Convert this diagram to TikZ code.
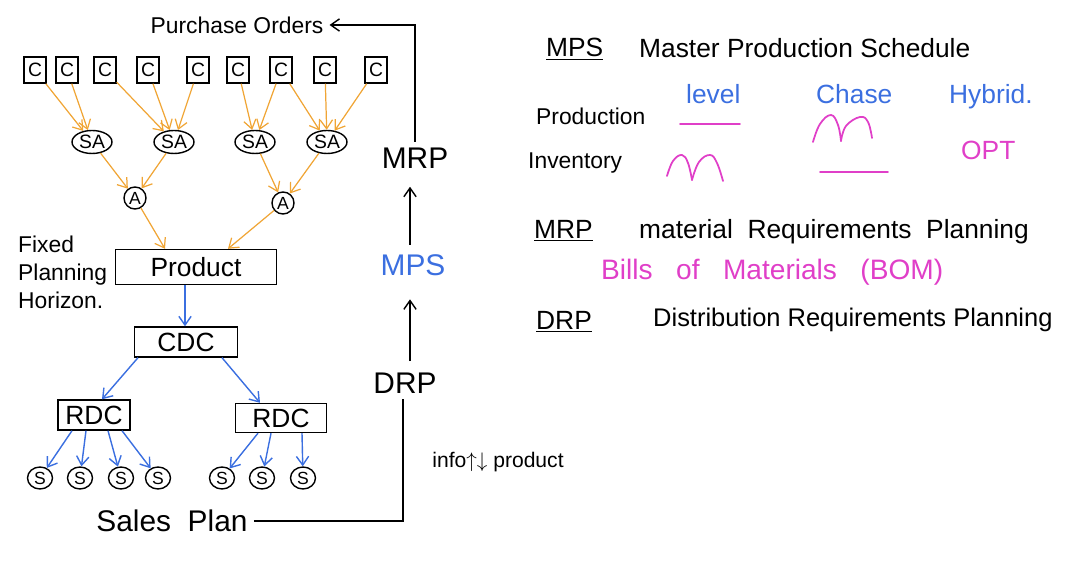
\documentclass[tikz,border=0pt]{standalone}
\usepackage{fontspec}
\setmainfont{Liberation Sans}
\usetikzlibrary{arrows.meta,shapes.geometric}
\definecolor{orng}{HTML}{F0A535}
\definecolor{blu}{HTML}{3B6FE0}
\definecolor{pnk}{HTML}{E03FC8}
\begin{document}
\begin{tikzpicture}[x=0.02cm,y=-0.02cm,
  tip/.style={-{Straight Barb[length=5pt,width=7pt]}},
  oarr/.style={tip,draw=orng,line width=0.7pt},
  barr/.style={tip,draw=blu,line width=0.8pt},
  karr/.style={tip,draw=black,line width=0.8pt},
  cbox/.style={draw,line width=0.8pt,minimum width=0.44cm,minimum height=0.52cm,inner sep=0pt,font=\fontsize{11}{13}\selectfont},
  sa/.style={draw,ellipse,line width=0.8pt,minimum width=0.8cm,minimum height=0.46cm,inner sep=0pt,font=\fontsize{11}{13}\selectfont},
  asm/.style={draw,circle,line width=0.8pt,minimum size=0.44cm,inner sep=0pt,font=\fontsize{10}{12}\selectfont},
  sn/.style={draw,ellipse,line width=0.8pt,minimum width=0.5cm,minimum height=0.44cm,inner sep=0pt,font=\fontsize{10}{12}\selectfont},
  rbox/.style={draw,line width=0.8pt,inner sep=0pt,font=\fontsize{15}{18}\selectfont},
  lbl/.style={font=\fontsize{13}{16}\selectfont},
  big/.style={font=\fontsize{17}{20}\selectfont},
  rt/.style={font=\fontsize{15}{18}\selectfont,anchor=west},
  bt/.style={font=\fontsize{15}{18}\selectfont,anchor=base west,text=blu},
  hump/.style={draw=pnk,line width=1pt,line cap=round,line join=round}
]
\useasboundingbox (0,0) rectangle (1080,573);
% Purchase orders
\node[lbl] (po) at (237,25) {Purchase Orders};
% components
\foreach \i/\x in {1/35,2/67,3/105,4/148,5/198,6/238,7/281,8/325,9/376}
  \node[cbox] (c\i) at (\x,70) {C};
\foreach \i/\x in {1/92,2/174,3/255,4/327}
  \node[sa] (sa\i) at (\x,142) {SA};
\node[asm] (a1) at (135,198) {A};
\node[asm] (a2) at (283,203) {A};
\foreach \c/\s in {1/1,2/1,3/2,4/2,5/2,6/3,7/3,7/4,8/4,9/4}
  \draw[oarr] (c\c) -- (sa\s);
\foreach \s/\a in {1/1,2/1,3/2,4/2}
  \draw[oarr] (sa\s) -- (a\a);
\node[rbox,minimum width=3.22cm,minimum height=0.7cm] (prod) at (196,267) {Product};
\draw[oarr] (a1) -- (prod.north -| 165,0);
\draw[oarr] (a2) -- (prod.north -| 228,0);
\node[lbl,align=left,anchor=west] (fph) at (12,272) {Fixed\\Planning\\Horizon.};
% distribution
\node[rbox,minimum width=2.06cm,minimum height=0.6cm] (cdc) at (186,342) {CDC};
\node[rbox,minimum width=1.44cm,minimum height=0.6cm] (rdc1) at (94,415) {RDC};
\node[rbox,minimum width=1.82cm,minimum height=0.58cm] (rdc2) at (281,418) {RDC};
\draw[barr] (prod.south -| 185,0) -- (cdc.north -| 185,0);
\draw[barr] (cdc.south -| 138,0) -- (rdc1.north -| 102,0);
\draw[barr] (cdc.south -| 222,0) -- (rdc2.north -| 260,0);
\foreach \i/\x in {1/40,2/80,3/121,4/158,5/222,6/262,7/303}
  \node[sn] (s\i) at (\x,478) {S};
\foreach \i/\x in {1/72,2/86,3/108,4/122}
  \draw[barr] (rdc1.south -| \x,0) -- (s\i);
\foreach \i/\x in {5/258,6/271,7/302}
  \draw[barr] (rdc2.south -| \x,0) -- (s\i);
\node[font=\fontsize{17}{20}\selectfont] (sp) at (172,521) {Sales\ \ Plan};
% planning chain
\node[big] (mrp) at (415,158) {MRP};
\node[big,text=blu] (mps) at (413,265) {MPS};
\node[big] (drp) at (405,383) {DRP};
\draw[karr,shorten <=2pt,shorten >=7pt] (mps.north -| 410,0) -- (mrp.south -| 410,0);
\draw[karr,shorten <=3pt,shorten >=10pt] (drp.north -| 410,0) -- (mps.south -| 410,0);
\draw[karr,line width=0.8pt] (mrp.north -| 415,0) |- (po.east);
\draw[line width=0.8pt] (sp.east) -| (drp.south -| 403,0);
\node[font=\fontsize{12}{14}\selectfont] (info) at (498,462) {info$\uparrow\downarrow$ product};
% right side
\node[rt] (mpsh) at (540,49) {\underline{MPS}};
\node[rt] (mpst) at (633,48) {Master Production Schedule};
\node[rt,font=\fontsize{13}{16}\selectfont] (prodn) at (530,116) {Production};
\node[rt,font=\fontsize{13}{16}\selectfont] (inv) at (522,163) {Inventory};
\node[bt] (lev) at (680,104) {level};
\node[bt] (cha) at (810,104) {Chase};
\node[bt] (hyb) at (943,104) {Hybrid.};
\node[rt,text=pnk] (opt) at (955,150) {OPT};
\draw[hump] (680,124) -- (740,124);
\draw[hump] (820,172) -- (888,172);
\draw[hump] plot[smooth,tension=0.7] coordinates {(813,142) (820,124) (831,115) (838,125) (841,141)};
\draw[hump] plot[smooth,tension=0.7] coordinates {(841,141) (846,126) (860,117) (868,122) (872,138)};
\draw[hump] plot[smooth,tension=0.7] coordinates {(667,176) (673,161) (682,155) (688,163) (692,180)};
\draw[hump] plot[smooth,tension=0.7] coordinates {(692,180) (699,162) (710,155) (717,163) (723,181)};
\node[rt] (mrph) at (528,231) {\underline{MRP}};
\node[rt] (mrpt) at (633,232) {material\ \ Requirements\ \ Planning};
\node[rt,text=pnk,font=\fontsize{16}{19}\selectfont] (bom) at (595,272) {Bills\ \ \ of\ \ \ Materials\ \ \ (BOM)};
\node[rt] (drph) at (530,322) {\underline{DRP}};
\node[rt,font=\fontsize{14.5}{17}\selectfont] (drpt) at (647,320) {Distribution\ Requirements\ Planning};
\end{tikzpicture}
\end{document}
